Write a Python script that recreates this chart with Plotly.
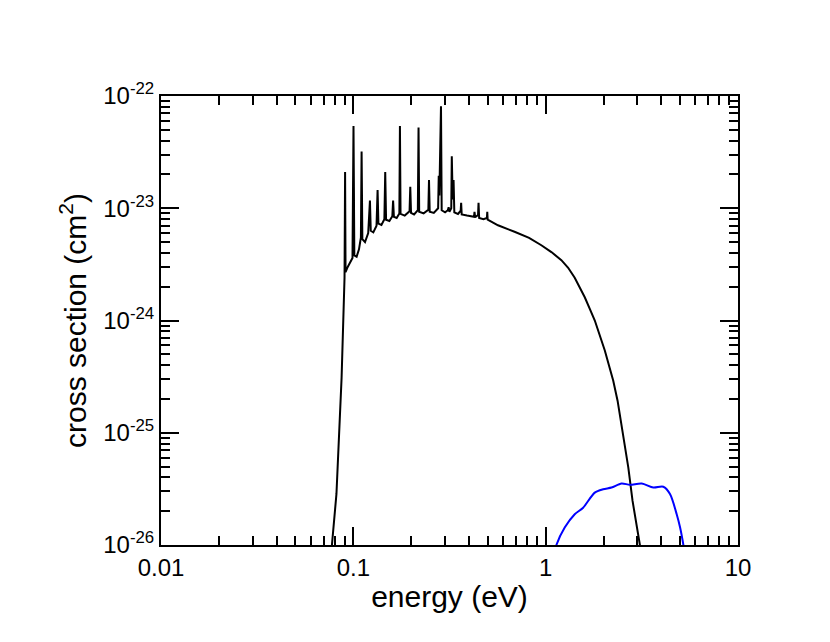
import plotly.graph_objects as go

# Black curve: energy (eV) and cross section (cm^2)
energy_black = [
    0.0765, 0.0817, 0.0869, 0.0900, 0.0906, 0.0911, 0.0935, 0.0965, 0.0990,
    0.1002, 0.1012, 0.1040, 0.1070, 0.1095, 0.1104, 0.1114, 0.1150, 0.1195,
    0.1220, 0.1232, 0.1270, 0.1320, 0.1337, 0.1350, 0.1400, 0.1450, 0.1465,
    0.1480, 0.1540, 0.1595, 0.1610, 0.1625, 0.1680, 0.1735, 0.1747, 0.1760,
    0.1850, 0.1960, 0.1977, 0.1995, 0.2070, 0.2165, 0.2183, 0.2200, 0.2320,
    0.2455, 0.2474, 0.2495, 0.2620, 0.2760, 0.2780, 0.2800, 0.2856, 0.2880,
    0.3000, 0.3100, 0.3130, 0.3160, 0.3230, 0.3250, 0.3285, 0.3320, 0.3350,
    0.3500, 0.3615, 0.3635, 0.3660, 0.3900, 0.4240, 0.4266, 0.4300, 0.4450,
    0.4477, 0.4510, 0.4750, 0.4950, 0.4970, 0.4995, 0.5650, 0.6890, 0.8200, 0.9495,
    1.071, 1.207, 1.309, 1.416, 1.504, 1.597, 1.696, 1.801, 1.912, 2.03,
    2.246, 2.365, 2.69, 2.83, 3.09, 3.15,
]
sigma_black = [
    8.0e-27, 2.85e-26, 3.1e-25, 2.4e-24, 2.1e-23, 2.7e-24, 3.0e-24, 3.3e-24, 3.6e-24,
    5.4e-23, 3.8e-24, 3.7e-24, 4.3e-24, 5.5e-24, 3.2e-23, 5.3e-24, 5.0e-24, 6.0e-24,
    1.17e-23, 6.3e-24, 6.1e-24, 7.0e-24, 1.45e-23, 7.3e-24, 7.1e-24, 8.0e-24, 2.1e-23,
    7.9e-24, 7.7e-24, 8.5e-24, 1.17e-23, 8.4e-24, 8.2e-24, 9.0e-24, 5.4e-23, 8.9e-24,
    8.6e-24, 9.4e-24, 1.55e-23, 9.1e-24, 8.8e-24, 9.6e-24, 5.25e-23, 9.3e-24, 9.0e-24,
    9.7e-24, 1.78e-23, 9.3e-24, 9.1e-24, 1.0e-23, 1.95e-23, 1.3e-23, 8.1e-23, 9.6e-24,
    9.2e-24, 9.6e-24, 1.02e-23, 9.3e-24, 1.0e-23, 2.9e-23, 1.2e-23, 1.78e-23, 9.2e-24,
    8.9e-24, 9.5e-24, 1.12e-23, 8.8e-24, 8.6e-24, 8.4e-24, 9.3e-24, 8.3e-24, 8.7e-24,
    1.12e-23, 8.2e-24, 8.0e-24, 8.2e-24, 9.3e-24, 7.9e-24, 7.05e-24, 6.17e-24, 5.45e-24, 4.68e-24,
    4.07e-24, 3.45e-24, 2.95e-24, 2.40e-24, 1.98e-24, 1.61e-24, 1.27e-24, 1.0e-24, 7.35e-25, 5.4e-25,
    2.9e-25, 1.93e-25, 4.9e-26, 2.47e-26, 1.0e-26, 8.0e-27,
]

# Blue curve
energy_blue = [1.10, 1.137, 1.256, 1.416, 1.566, 1.80, 1.99, 2.20, 2.48, 2.74,
               3.16, 3.63, 4.09, 4.43, 4.80, 5.00, 5.20, 5.30]
sigma_blue = [8.0e-27, 1.0e-26, 1.43e-26, 1.88e-26, 2.15e-26, 2.93e-26, 3.14e-26, 3.25e-26,
              3.53e-26, 3.44e-26, 3.53e-26, 3.25e-26, 3.30e-26, 2.84e-26, 1.88e-26,
              1.43e-26, 1.0e-26, 8.0e-27]

x_tickvals = [0.01, 0.1, 1, 10]
x_ticktext = ["0.01", "0.1", "1", "10"]
y_tickvals = [1e-26, 1e-25, 1e-24, 1e-23, 1e-22]
y_ticktext = ["10<sup>-26</sup>", "10<sup>-25</sup>", "10<sup>-24</sup>",
              "10<sup>-23</sup>", "10<sup>-22</sup>"]

x_minor = [m * 10.0 ** d for d in (-2, -1, 0) for m in range(2, 10)]
y_minor = [m * 10.0 ** d for d in (-26, -25, -24, -23) for m in range(2, 10)]

FONT = "Liberation Sans, Arial, Helvetica, sans-serif"

fig = go.Figure()
fig.add_trace(go.Scatter(x=energy_black, y=sigma_black, mode="lines",
                         line=dict(color="black", width=2), showlegend=False))
fig.add_trace(go.Scatter(x=energy_blue, y=sigma_blue, mode="lines",
                         line=dict(color="#0000ff", width=2, shape="spline", smoothing=0.8),
                         showlegend=False))

axis_common = dict(
    type="log", showgrid=False, zeroline=False,
    showline=True, linecolor="black", linewidth=2, mirror="allticks",
    ticks="inside", ticklen=18, tickwidth=2, tickcolor="black",
    tickfont=dict(family=FONT, size=24, color="black"),
)

fig.update_xaxes(
    **axis_common, range=[-2, 1],
    tickvals=x_tickvals, ticktext=x_ticktext,
    minor=dict(tickvals=x_minor, ticks="inside", ticklen=9, tickwidth=1.5, tickcolor="black"),
    title=dict(text="energy (eV)", font=dict(family=FONT, size=30, color="black"), standoff=6),
)
fig.update_yaxes(
    **axis_common, range=[-26, -22],
    tickvals=y_tickvals, ticktext=y_ticktext,
    minor=dict(tickvals=y_minor, ticks="inside", ticklen=9, tickwidth=1.5, tickcolor="black"),
    title=dict(text="cross section (cm<sup>2</sup>)", font=dict(family=FONT, size=30, color="black"), standoff=8),
)

fig.update_layout(
    width=830, height=642,
    margin=dict(l=153, r=100, t=88, b=105),
    plot_bgcolor="white", paper_bgcolor="white",
)

fig.write_html("out.html")
